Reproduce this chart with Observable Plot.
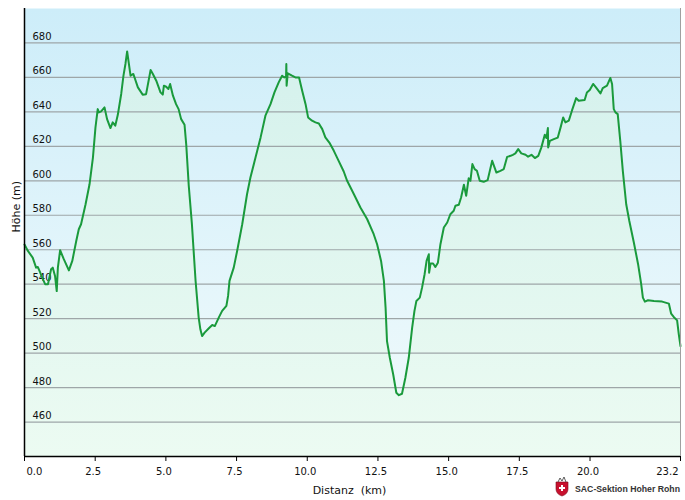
<!DOCTYPE html>
<html>
<head>
<meta charset="utf-8">
<script src="https://cdn.jsdelivr.net/npm/d3@7"></script>
<script src="https://cdn.jsdelivr.net/npm/@observablehq/plot@0.6"></script>
<style>
  body { margin: 0; background: #fff; }
  #grafico { width: 685px; height: 500px; }
</style>
</head>
<body>
<div id="grafico"></div>
<script>
const distanzKm = [
  0, 0.12, 0.29, 0.41, 0.47, 0.53, 0.65, 0.73, 0.83, 0.94, 1.0, 1.08, 1.14, 1.18, 1.26, 1.39, 1.57, 1.69, 1.83, 1.92,
  2.0, 2.16, 2.3, 2.42, 2.51, 2.59, 2.63, 2.71, 2.83, 2.92, 3.04, 3.12, 3.21, 3.3, 3.42, 3.5, 3.57, 3.63, 3.75, 3.85,
  4.01, 4.18, 4.3, 4.46, 4.54, 4.66, 4.81, 4.89, 4.93, 5.01, 5.09, 5.15, 5.25, 5.36, 5.45, 5.54, 5.66, 5.72, 5.81, 5.92,
  6.05, 6.16, 6.22, 6.28, 6.37, 6.52, 6.64, 6.73, 6.87, 6.99, 7.14, 7.2, 7.25, 7.4, 7.52, 7.7, 7.87, 7.99, 8.17, 8.35,
  8.52, 8.7, 8.84, 8.99, 9.11, 9.19, 9.25, 9.26, 9.27, 9.31, 9.46, 9.58, 9.71, 9.82, 9.94, 10.03, 10.17, 10.29, 10.41, 10.53,
  10.64, 10.8, 10.94, 11.11, 11.29, 11.41, 11.65, 11.88, 12.12, 12.35, 12.47, 12.61, 12.71, 12.77, 12.82, 12.92, 13.04, 13.15, 13.24, 13.35,
  13.47, 13.59, 13.71, 13.79, 13.86, 13.98, 14.06, 14.15, 14.22, 14.3, 14.31, 14.36, 14.45, 14.53, 14.62, 14.71, 14.83, 14.95, 15.06, 15.18,
  15.24, 15.36, 15.44, 15.54, 15.62, 15.71, 15.77, 15.84, 15.92, 16.0, 16.1, 16.24, 16.38, 16.54, 16.69, 16.83, 16.95, 17.07, 17.19, 17.27,
  17.36, 17.46, 17.57, 17.72, 17.81, 17.93, 18.05, 18.17, 18.28, 18.4, 18.46, 18.51, 18.52, 18.58, 18.72, 18.86, 18.96, 19.05, 19.13, 19.25,
  19.36, 19.51, 19.6, 19.81, 19.89, 19.99, 20.11, 20.21, 20.37, 20.45, 20.6, 20.72, 20.78, 20.84, 20.9, 20.98, 21.07, 21.16, 21.28, 21.39,
  21.55, 21.7, 21.81, 21.87, 21.94, 22.05, 22.26, 22.55, 22.79, 22.87, 22.96, 23.08, 23.14, 23.2
];
const hoeheM = [
  563, 559.3, 555.4, 549.6, 550, 547.7, 542.9, 540, 540, 548.7, 549.6, 544.8, 536, 549.6, 559.7, 554.5, 548, 553.5, 565.1, 571.9,
  574.8, 586.4, 598, 613.5, 631, 641.6, 639.7, 640.3, 642.6, 635.8, 630.6, 633.9, 632, 638.3, 650.4, 661, 667.8, 675.1, 661, 662,
  654.2, 650, 650.3, 664.3, 662, 658.1, 651.3, 650, 655.2, 654.6, 653.3, 656.2, 649.4, 644.5, 641.6, 635.8, 632.5, 621, 597, 575,
  542, 520.6, 513.8, 509.9, 511.9, 514.4, 516.3, 515.7, 520.6, 524.5, 527.4, 533.2, 541.9, 549.6, 559.3, 574.8, 592.2, 601.9, 613.5, 625.2,
  637.8, 644.5, 651.3, 657.1, 661, 660, 660.5, 667.8, 655.2, 662.4, 661, 660, 660, 652.3, 644.5, 636.8, 634.9, 633.9, 633.3, 630,
  625.2, 621.7, 617.4, 611.6, 605.4, 600, 592.2, 584.5, 577.7, 569, 563.2, 553.5, 541.9, 526.4, 507, 497.3, 487.6, 477, 475.6, 476.4,
  485.7, 497.3, 514.8, 524.4, 530.3, 532.2, 538, 545.8, 553.5, 557.4, 546.7, 552, 552, 550, 552.5, 563.2, 572.9, 575.8, 580.6, 582.6,
  585.5, 586.1, 590.3, 597.7, 591.3, 601.5, 600, 609.7, 606.8, 605.8, 600, 599.4, 600.4, 611.6, 604.8, 605.8, 606.8, 613.9, 614.5, 615.1,
  615.9, 618.4, 615.9, 615.1, 614, 615.1, 613.2, 614.5, 619.4, 626.7, 624.8, 630.6, 619.4, 623.2, 624.2, 625.1, 631, 636.8, 633.9, 634.9,
  640.7, 648, 646.5, 646.9, 651.3, 652.7, 656.2, 654.2, 650.7, 653.8, 655.2, 659.7, 656.2, 641.6, 639.7, 638.7, 623.2, 605.8, 586.4, 576.7,
  564.2, 551.6, 540, 532.2, 529.9, 530.7, 530.3, 529.9, 528.7, 522.9, 521, 519, 510.9, 504
];
const hoeheTicks = [460, 480, 500, 520, 540, 560, 580, 600, 620, 640, 660, 680];
const distanzTicks = [0, 2.5, 5, 7.5, 10, 12.5, 15, 17.5, 20, 23.2];

const profil = distanzKm.map((d, i) => ({km: d, m: hoeheM[i]}));
const fmt = d3.format(".1f");

const chart = Plot.plot({
  width: 685,
  height: 500,
  marginTop: 8,
  marginRight: 5,
  marginBottom: 44,
  marginLeft: 24,
  style: {fontFamily: "DejaVu Sans, Verdana, sans-serif", fontSize: "10px", background: "#fff", color: "#000"},
  x: {domain: [0, 23.2], axis: null},
  y: {domain: [440, 700], axis: null},
  marks: [
    Plot.frame({fill: "url(#hintergrund)", stroke: null}),
    Plot.areaY(profil, {x: "km", y1: 440, y2: "m", fill: "url(#flaeche)"}),
    Plot.ruleY(hoeheTicks, {stroke: "#9ea6a8", strokeWidth: 1.2}),
    Plot.text(hoeheTicks, {x: 0, y: d => d, text: d => String(d), textAnchor: "start", lineAnchor: "bottom", dx: 8, dy: -3, fill: "#111"}),
    Plot.line(profil, {x: "km", y: "m", stroke: "#1a9a3c", strokeWidth: 2}),
    Plot.ruleX([23.2], {stroke: "#a0a0a0", strokeWidth: 1}),
    Plot.ruleX([0], {stroke: "#000", strokeWidth: 1.5}),
    Plot.ruleY([440], {stroke: "#000", strokeWidth: 1.5}),
    Plot.axisX({ticks: distanzTicks, tickSize: 5, tickFormat: () => "", label: null, stroke: "#000"}),
    // beschriftung der x-achse, erste und letzte bündig an der kante
    Plot.text([0], {x: d => d, frameAnchor: "bottom", text: fmt, textAnchor: "start", lineAnchor: "top", dx: 2, dy: 11, fill: "#111"}),
    Plot.text(distanzTicks.slice(1, -1), {x: d => d, frameAnchor: "bottom", text: fmt, lineAnchor: "top", dx: -2, dy: 11, fill: "#111"}),
    Plot.text([23.2], {x: d => d, frameAnchor: "bottom", text: fmt, textAnchor: "end", lineAnchor: "top", dx: -2, dy: 11, fill: "#111"}),
    Plot.text(["Distanz\u00a0 (km)"], {frameAnchor: "bottom", text: d => d, lineAnchor: "bottom", dx: -3, dy: 37, fontSize: 11, fill: "#111"}),
    Plot.text(["Höhe (m)"], {frameAnchor: "left", text: d => d, rotate: -90, lineAnchor: "bottom", dx: -5, fontSize: 11, fill: "#111"})
  ]
});

// verläufe für hintergrund und fläche
const defs = document.createElementNS("http://www.w3.org/2000/svg", "defs");
defs.innerHTML = `
  <linearGradient id="hintergrund" gradientUnits="userSpaceOnUse" x1="0" y1="8" x2="0" y2="456">
    <stop offset="0" stop-color="#cdedf9"/>
    <stop offset="1" stop-color="#f3fbfc"/>
  </linearGradient>
  <linearGradient id="flaeche" gradientUnits="userSpaceOnUse" x1="0" y1="8" x2="0" y2="456">
    <stop offset="0" stop-color="#d2f0ec"/>
    <stop offset="1" stop-color="#ecfbf2"/>
  </linearGradient>`;
chart.insertBefore(defs, chart.firstChild);

// kleines logo unten rechts
const logo = d3.select(chart).append("g").attr("transform", "translate(555,477)").attr("text-anchor", "start");
logo.append("path").attr("d", "M1,5 H13 V12 Q13,17 7,19 Q1,17 1,12 Z").attr("fill", "#c8102e").attr("stroke", "#7a0a1a").attr("stroke-width", 0.6);
logo.append("path").attr("d", "M6,8 H8 V10 H10 V12 H8 V14 H6 V12 H4 V10 H6 Z").attr("fill", "#fff");
logo.append("path").attr("d", "M3,5 L5,1 L7,4 L9,0 L11,5").attr("fill", "none").attr("stroke", "#333").attr("stroke-width", 0.8);
logo.append("text").attr("x", 20).attr("y", 15).attr("font-size", 9).attr("font-weight", "bold")
  .attr("font-family", "Liberation Sans, Arial, sans-serif").attr("fill", "#333")
  .attr("textLength", 105).attr("lengthAdjust", "spacingAndGlyphs").text("SAC-Sektion Hoher Rohn");

d3.select("#grafico").append(() => chart);
</script>
</body>
</html>
